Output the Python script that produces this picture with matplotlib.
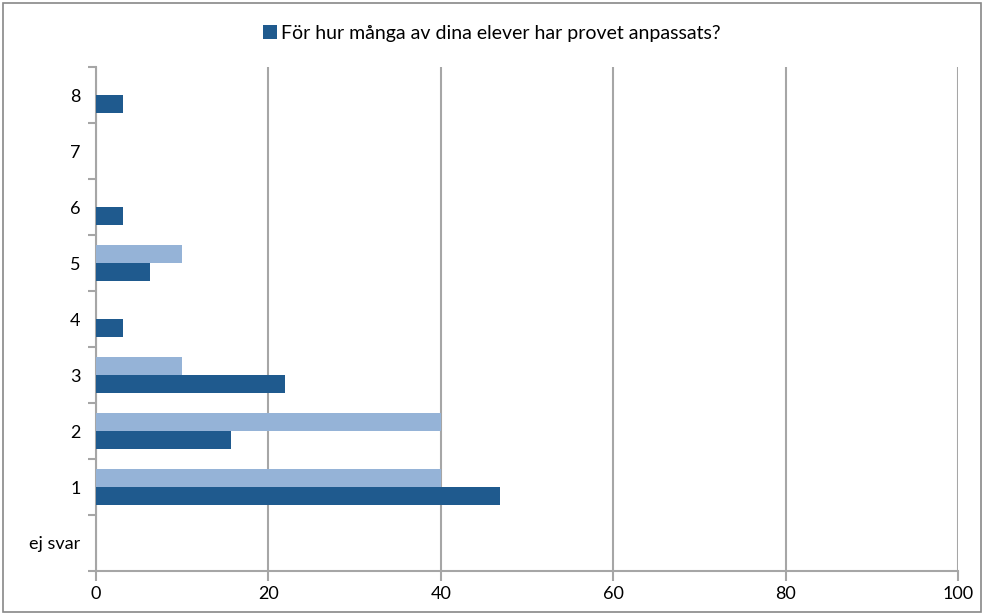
import numpy as np
import matplotlib.pyplot as plt
from matplotlib.patches import Rectangle

categories = ['ej svar', '1', '2', '3', '4', '5', '6', '7', '8']
dark_vals = [0, 46.875, 15.625, 21.875, 3.125, 6.25, 3.125, 0, 3.125]
light_vals = [0, 40, 40, 10, 0, 10, 0, 0, 0]
legend_label = 'För hur många av dina elever har provet anpassats?'

dark = '#1f5a8e'
light = '#95b3d7'
grid = '#a6a6a6'

plt.rcParams['font.family'] = ['Lato', 'DejaVu Sans']

fig = plt.figure(figsize=(9.84, 6.14), dpi=100)
ax = fig.add_axes([96/984, 1 - 571/614, (958-96)/984, (571-67)/614])

y = np.arange(len(categories))
h = 0.33
ax.barh(y - h/2, dark_vals, height=h, color=dark, label=legend_label, zorder=3)
ax.barh(y + h/2, light_vals, height=h, color=light, zorder=3)

ax.set_xlim(0, 100)
ax.set_ylim(-0.5, len(categories) - 0.5)
ax.set_xticks(np.arange(0, 101, 20))
ax.set_yticks(y)
ax.set_yticklabels(categories)
ax.set_yticks(np.arange(-0.5, len(categories)), minor=True)
ax.tick_params(axis='y', which='major', length=0, pad=11, labelsize=13)
ax.tick_params(axis='y', which='minor', length=6, width=1.5, color=grid, direction='out')
ax.tick_params(axis='x', length=7, width=1.5, color=grid, labelsize=13, pad=4)
ax.xaxis.grid(True, color=grid, linewidth=1.5, zorder=0)

for s in ['top', 'right']:
    ax.spines[s].set_visible(False)
for s in ['left', 'bottom']:
    ax.spines[s].set_color(grid)
    ax.spines[s].set_linewidth(1.5)

fig.legend(loc='center', bbox_to_anchor=(0.5, 1 - 33/614), frameon=False,
           fontsize=14, handlelength=0.7, handleheight=0.7, handletextpad=0.25)

fig.patches.append(Rectangle((3/984, 2/614), 978/984, 609/614, transform=fig.transFigure,
                             fill=False, edgecolor='#888888', linewidth=1.2))

fig.savefig('out.png', dpi=100)
